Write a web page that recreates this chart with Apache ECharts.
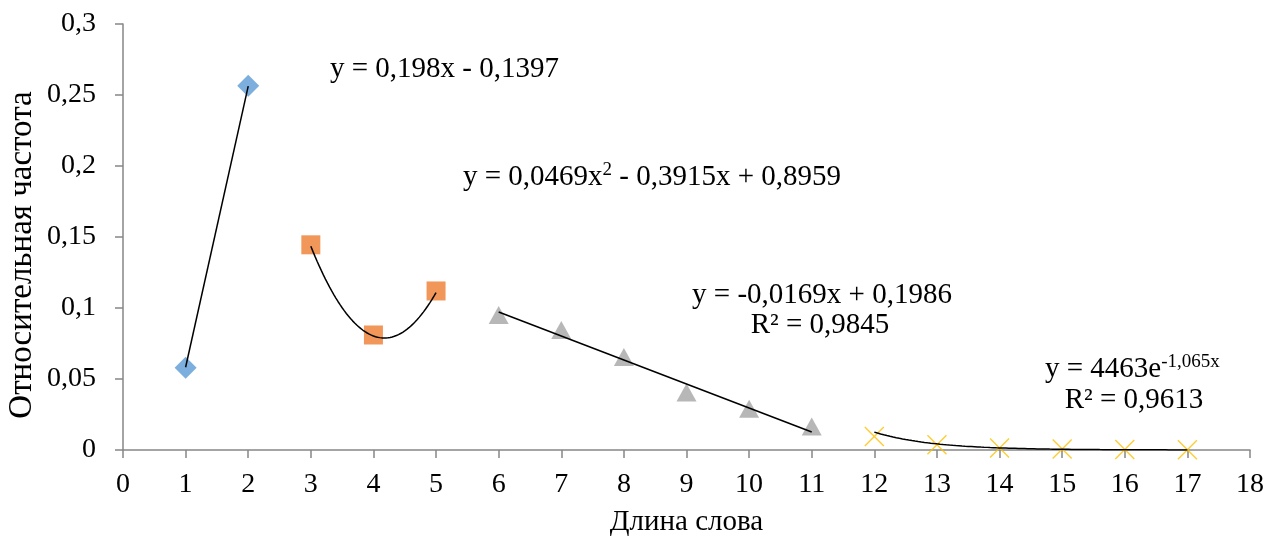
<!DOCTYPE html>
<html><head><meta charset="utf-8">
<script src="https://cdn.jsdelivr.net/npm/echarts@6/dist/echarts.min.js"></script>
<style>html,body{margin:0;padding:0;background:#fff}#c{width:1266px;height:539px}</style>
</head><body><div id="c"></div>
<script>
// Data
var xS1 = [1, 2];
var yS1 = [0.058, 0.2565];
var xS2 = [3, 4, 5];
var yS2 = [0.1445, 0.081, 0.112];
var xS3 = [6, 7, 8, 9, 10, 11];
var yS3 = [0.095, 0.0845, 0.0655, 0.0405, 0.029, 0.0165];
var xS4 = [12, 13, 14, 15, 16, 17];
var yS4 = [0.0095, 0.0037, 0.0014, 0.0007, 0.0004, 0.0002];
// Trendline coefficients as printed on the chart
var lin1 = [0.198, -0.1397];
var poly2 = [0.0469, -0.3915, 0.8959];
var lin3 = [-0.0169, 0.1986];
var exp4 = [4463, -1.065];
var xTicks = [0, 18, 1];
var yTicks = [0, 0.3, 0.05];

function pairs(xs, ys){ return xs.map(function(x,i){return [x, ys[i]];}); }
function curve(f, a, b, n){ var out=[]; for(var i=0;i<=n;i++){ var x=a+(b-a)*i/n; out.push([x, f(x)]); } return out; }

var trend1 = curve(function(x){return lin1[0]*x+lin1[1];}, xS1[0], xS1[xS1.length-1], 1);
var trend2 = curve(function(x){return poly2[0]*x*x+poly2[1]*x+poly2[2];}, xS2[0], xS2[xS2.length-1], 60);
var trend3 = curve(function(x){return lin3[0]*x+lin3[1];}, xS3[0], xS3[xS3.length-1], 1);
var trend4 = curve(function(x){return exp4[0]*Math.exp(exp4[1]*x);}, xS4[0], xS4[xS4.length-1], 100);

var FONT = '"Liberation Serif", "Times New Roman", serif';
var axisCol = '#868686';
var xPath = 'path://M0,1L1,0L10,9L19,0L20,1L11,10L20,19L19,20L10,11L1,20L0,19L9,10Z';
var EQ = 29;
var TK = 28;

function trendSeries(d){ return {type:'line', data:d, showSymbol:false, symbol:'none', lineStyle:{color:'#000', width:1.5}, z:5, silent:true, animation:false}; }

var chart = echarts.init(document.getElementById('c'));
function txt(x, y, text, align, rich, size, rot){
  var s = {text: text, fontFamily: FONT, fontSize: size || EQ, fill: '#000', textAlign: align || 'left', textVerticalAlign: 'middle'};
  if (rich) s.rich = rich;
  var o = {type: 'text', x: x, y: y, style: s, z: 10};
  if (rot) o.rotation = rot;
  return o;
}
var supRich = {
  n: {fontFamily: FONT, fontSize: EQ, fill:'#000'},
  s: {fontFamily: FONT, fontSize: 19, fill:'#000', verticalAlign:'top', padding:[0,0,14,0]}
};
var tickRich = {t: {fontFamily: FONT, fontSize: TK, color: '#000'}};
chart.setOption({
  animation: false,
  backgroundColor: '#fff',
  textStyle: {fontFamily: FONT},
  grid: {left: 123, right: 16, top: 24, bottom: 89, containLabel: false, outerBoundsMode: 'none'},
  xAxis: {
    type: 'value', min: xTicks[0], max: xTicks[1], interval: xTicks[2],
    name: 'Длина слова', nameLocation: 'middle', nameGap: 58,
    nameTextStyle: {fontFamily: FONT, fontSize: 29, color: '#000'},
    axisLine: {show: true, lineStyle: {color: axisCol, width: 1.5}},
    axisTick: {show: true, length: 8, lineStyle: {color: axisCol, width: 1.5}},
    axisLabel: {fontFamily: FONT, fontSize: TK, color: '#000', margin: 21,
      formatter: function(v){ return '{t|' + v + '}'; }, rich: tickRich},
    splitLine: {show: false}
  },
  yAxis: {
    type: 'value', min: yTicks[0], max: yTicks[1], interval: yTicks[2],
    axisLine: {show: true, lineStyle: {color: axisCol, width: 1.5}},
    axisTick: {show: true, length: 8, lineStyle: {color: axisCol, width: 1.5}},
    axisLabel: {fontFamily: FONT, fontSize: TK, color: '#000', margin: 27,
      formatter: function(v){ return '{t|' + String(parseFloat(v.toFixed(2))).replace('.', ',') + '}'; }, rich: tickRich},
    splitLine: {show: false}
  },
  series: [
    {type:'scatter', data: pairs(xS1,yS1), symbol:'diamond', symbolSize:[22,22], itemStyle:{color:'#5B9BD5'}, z:3},
    {type:'scatter', data: pairs(xS2,yS2), symbol:'rect', symbolSize:[19,19], itemStyle:{color:'#ED7D31'}, z:3},
    {type:'scatter', data: pairs(xS3,yS3), symbol:'triangle', symbolSize:[20,18], itemStyle:{color:'#A5A5A5'}, z:3},
    {type:'scatter', data: pairs(xS4,yS4), symbol:xPath, symbolSize:[20,20], itemStyle:{color:'#FFC000'}, z:3},
    trendSeries(trend1), trendSeries(trend2), trendSeries(trend3), trendSeries(trend4)
  ],
  graphic: [
    txt(22, 255, 'Относительная частота', 'center', null, 33, Math.PI/2),
    txt(330, 69, 'y = 0,198x - 0,1397'),
    txt(463, 177, '{n|y = 0,0469x}{s|2}{n| - 0,3915x + 0,8959}', 'left', supRich),
    txt(822, 295, 'y = -0,0169x + 0,1986', 'center'),
    txt(820, 325, 'R² = 0,9845', 'center'),
    txt(1045, 369, '{n|y = 4463e}{s|-1,065x}', 'left', supRich),
    txt(1134, 400, 'R² = 0,9613', 'center')
  ]
});
</script></body></html>
